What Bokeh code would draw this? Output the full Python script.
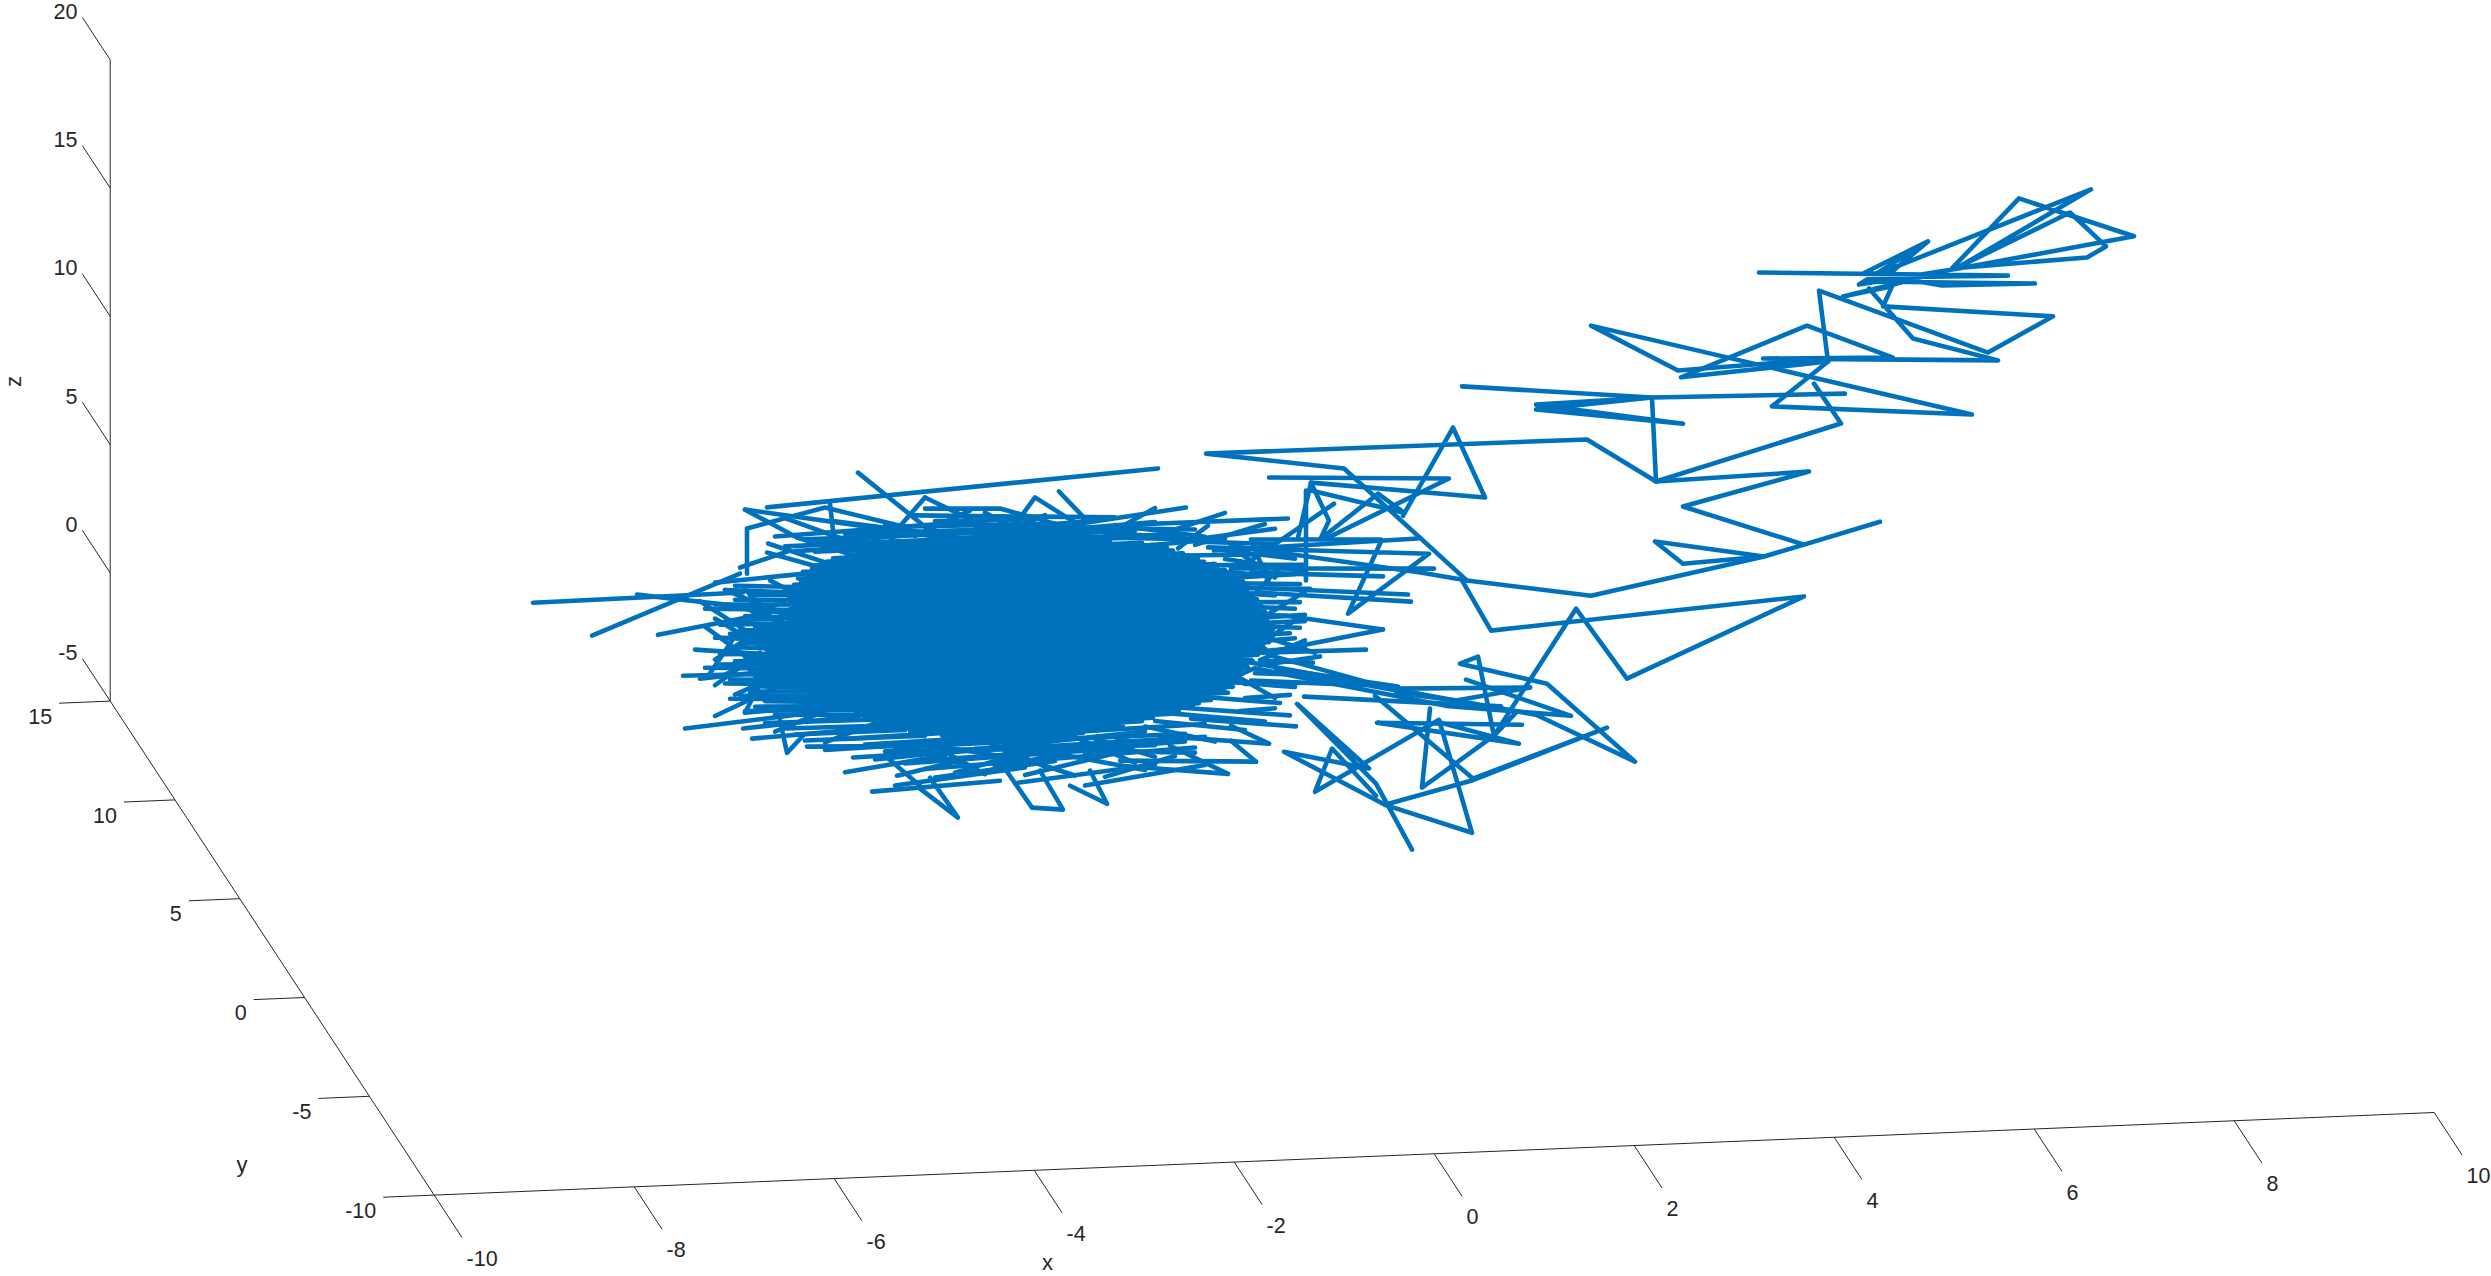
from bokeh.plotting import figure
from bokeh.models import Range1d
from bokeh.core.properties import value
from bokeh.embed import file_html
from bokeh.resources import INLINE
import math

# ---- axis ticks
x_ticks = [-10, -8, -6, -4, -2, 0, 2, 4, 6, 8, 10]
y_ticks = [-10, -5, 0, 5, 10, 15]
z_ticks = [-5, 0, 5, 10, 15, 20]

# ---- trajectory, as (x, z); depth taken at the plane y = 10
traj_y = 10
tail_top = [
    [(5.84,13.01),(8.33,12.49),(6.94,12.64),(9.16,15.72),(7.85,12.93),(8.95,14.85),(9.31,13.47),(9.12,13.07),(7.77,12.86),(8.44,15.48),(9.59,13.82),(7.85,12.85),(6.84,12.38),(7.53,13.95),(6.90,12.84),(7.67,12.21),(8.60,12.14),(6.90,12.49),(7.16,12.80),(7.53,13.95)],
    [(6.94,12.21),(7.38,10.19),(8.23,9.20),(5.88,9.65),(7.18,9.48),(6.32,10.86),(5.06,9.05),(6.53,9.43),(6.44,12.21),(8.13,9.52),(8.78,10.83),(7.08,11.49),(7.17,12.26),(6.68,11.94),(7.26,12.39)],
    [(6.53,9.43),(5.97,7.77),(7.97,7.13),(4.16,11.21),(5.03,9.32),(6.56,9.54)],
    [(6.39,8.59),(6.66,6.99),(4.81,5.03),(4.77,8.31),(6.70,8.15)],
    [(2.87,9.05),(4.77,8.31),(3.61,8.22),(5.08,7.24),(3.61,8.03),(4.77,8.31)],
]
tail_mid = [
    [(4.81,5.03),(6.34,5.17),(5.08,4.01),(6.29,2.33),(7.05,3.10),(6.29,2.33),(5.89,1.93),(4.16,0.68),(2.92,1.47),(1.69,6.04),(0.31,6.84),(4.12,6.78),(4.81,5.03)],
    [(4.80,2.69),(5.08,1.78),(5.89,1.93),(4.80,2.69)],
    [(2.86,1.56),(3.16,-0.52),(6.29,0.31),(4.52,-2.61),(4.01,0.20),(3.19,-4.62),(3.03,-1.51),(2.85,-1.76),(3.72,-2.68),(4.60,-5.86),(3.61,-3.87),(2.71,-3.10),(0.66,-1.29)],
    [(2.92,1.47),(2.47,1.85),(0.56,3.21)],
]
tail_low = [
    [(2.00,-2.87),(2.98,-6.26),(4.32,-4.49),(2.96,-6.34),(2.10,-7.14),(2.97,-8.37),(2.64,-3.91),(1.40,-6.52),(1.57,-4.86),(2.01,-6.77)],
    [(2.37,-8.93),(2.01,-6.30),(1.22,-3.06),(1.94,-5.70),(1.09,-4.91),(2.10,-7.14)],
    [(2.55,-3.46),(2.47,-6.53),(3.19,-4.62),(3.41,-3.76)],
    [(3.47,-4.24),(2.02,-3.93),(3.44,-4.97),(2.66,-4.03)],
    [(2.91,-2.39),(3.96,-3.97),(2.71,-3.38),(0.81,-1.62)],
    [(3.55,-2.80),(2.22,-2.63),(1.06,-1.82)],
    [(3.55,-2.80),(2.81,-3.19),(2.21,-2.79)],
    [(1.29,-2.79),(3.26,-3.49)],
    [(0.96,-1.14),(2.23,-2.71),(1.01,-1.65),(2.23,-2.55),(0.76,-2.08)],
]
right_fringe = [
    [(2.28,4.10),(2.78,7.46),(3.10,4.68),(1.36,5.54),(1.23,3.42)],
    [(1.36,5.54),(1.54,4.03),(1.46,3.38)],
    [(0.94,5.81),(2.74,5.48),(1.53,3.37)],
    [(1.36,5.23),(2.29,4.22),(2.03,5.00),(1.46,3.34)],
    [(1.31,5.24),(1.31,1.73)],
    [(1.59,4.68),(0.76,2.60)],
    [(0.94,1.67),(0.76,3.42),(2.06,3.21)],
    [(2.43,3.19),(0.39,3.05)],
    [(2.06,3.13),(1.73,0.37),(2.54,2.58),(0.33,3.18)],
    [(2.59,1.99),(0.56,2.32)],
    [(2.08,1.77),(0.76,2.13)],
    [(2.33,1.02),(0.96,1.48)],
    [(2.36,0.74),(0.86,1.33)],
    [(2.08,-0.30),(1.01,-0.95)],
    [(2.08,-0.30),(1.11,0.39)],
    [(1.91,-1.06),(0.86,-1.01)],
    [(1.38,-1.48),(0.86,-1.32)],
    [(1.1,2.8),(0.1,2.9)],[(1.3,2.35),(0.2,2.5)],[(0.9,2.0),(0.3,2.3)],[(1.25,1.6),(0.3,1.8)],
    [(1.0,1.2),(0.5,1.4)],[(1.25,0.9),(0.6,1.0)],[(1.1,0.4),(0.7,0.5)],[(1.3,0.15),(0.7,0.15)],
    [(1.15,-0.3),(0.8,-0.3)],[(0.65,2.9),(1.0,1.9)],[(1.05,2.3),(0.75,1.1)],[(1.3,1.3),(0.85,0.3)],
    [(1.2,0.2),(0.8,-0.8)],[(1.3,-0.6),(0.85,-1.3)],[(1.4,-1.1),(0.9,-0.4)],
    [(1.2,-2.4),(0.1,-1.9)],[(1.05,-3.0),(0.2,-2.6)],[(1.15,-3.5),(0.0,-3.0)],[(0.9,-3.7),(-0.1,-3.2)],
    [(0.7,-4.0),(-0.2,-3.5)],[(0.4,-4.4),(-0.3,-3.7)],[(0.8,-1.6),(0.2,-2.5)],[(0.5,-1.6),(1.0,-2.8)],
    [(0.3,3.4),(1.0,3.2)],[(0.4,3.1),(1.2,2.6)],[(0.5,2.7),(1.3,2.1)],[(0.5,1.95),(1.2,2.0)],
    [(0.6,1.55),(1.35,1.4)],[(0.75,0.8),(1.2,0.65)],[(0.85,0.35),(1.3,0.4)],[(0.9,0.0),(1.25,-0.1)],
    [(0.9,-0.55),(1.2,-0.5)],[(0.8,-0.95),(1.3,-0.9)],[(0.85,-1.5),(1.45,-1.25)],[(0.8,-1.8),(1.3,-1.95)],
    [(0.7,-2.2),(1.25,-2.25)],[(0.7,-2.75),(1.15,-2.7)],[(0.65,-3.25),(1.0,-3.2)],
]
top_fringe = [
    [(0.11,4.77),(-1.75,3.97)],
    [(-0.17,6.34),(-4.08,5.45)],
    [(1.13,4.18),(-0.41,4.19),(-1.15,3.80)],
    [(0.33,4.03),(0.03,3.19)],
    [(-1.62,4.27),(-1.40,5.41),(-1.08,4.57),(-0.85,4.03)],
    [(-1.16,5.60),(-0.90,4.50),(-1.00,4.05)],
    [(-6.42,2.11),(-4.32,2.17)],
    [(-5.83,0.73),(-4.35,2.91)],
    [(-5.38,2.26),(-4.15,1.52)],
    [(-5.17,0.66),(-4.08,1.31)],
    [(-3.17,6.66),(-2.45,4.28),(-2.15,3.85)],
    [(-4.30,5.40),(-3.78,4.23),(-3.05,3.21)],
    [(-4.30,5.40),(-3.15,4.59),(-1.75,3.58)],
    [(-4.28,2.90),(-4.28,4.66),(-3.50,5.35),(-2.75,4.52)],
    [(-3.45,5.50),(-3.42,4.44)],
    [(-4.07,4.04),(-3.25,2.85)],
    [(-4.08,3.69),(-3.25,2.65)],
    [(-4.35,3.15),(-3.85,3.73)],
    [(-2.50,5.58),(-2.85,4.08)],
    [(-2.50,5.58),(-2.08,4.73),(-1.75,3.97)],
    [(-2.50,5.15),(-1.75,5.03),(-0.95,4.04)],
    [(-4.0,4.3),(-1.8,4.6)],[(-3.6,4.0),(-0.8,4.4)],[(-3.3,3.75),(-0.2,4.25)],[(-3.8,3.7),(-1.2,3.9)],
    [(-2.6,4.9),(-0.6,4.5)],[(-2.0,4.4),(0.2,3.9)],[(-3.4,4.8),(-2.2,4.0)],[(-2.9,4.6),(-2.0,3.6)],
    [(-1.9,4.9),(-1.4,3.7)],[(-1.3,4.7),(-1.9,3.8)],[(-0.6,4.1),(-1.3,3.7)],[(-0.6,4.2),(0.3,3.6)],
    [(-3.4,4.1),(-3.0,3.4)],[(-2.8,4.2),(-2.9,3.5)],
    [(-3.9,3.9),(-0.4,3.95)],[(-3.7,4.15),(-0.9,4.1)],[(-3.3,4.3),(-1.2,4.2)],[(-2.9,4.5),(-1.2,4.35)],
    [(-2.4,4.65),(-1.4,4.55)],[(-3.5,3.85),(-0.2,3.75)],[(-3.6,3.65),(0.1,3.7)],[(-0.8,3.75),(0.3,3.5)],
    [(-0.6,3.3),(0.5,3.5)],[(-1.6,4.4),(0.0,3.6)],
    [(-2.05,5.0),(-2.6,4.1)],[(-0.2,4.8),(-0.7,3.8)],[(0.5,4.5),(-0.2,3.7)],[(-3.9,5.0),(-3.2,3.9)],
    [(0.9,4.0),(0.2,3.3)],[(1.0,3.8),(0.3,3.55)],
]
left_fringe = [
    [(-4.6,2.6),(-3.3,2.9)],[(-4.5,2.3),(-3.2,1.9)],[(-4.4,1.9),(-3.3,1.7)],[(-4.7,1.6),(-3.3,1.3)],
    [(-4.3,1.25),(-3.4,1.0)],[(-4.55,0.95),(-3.3,0.85)],[(-4.35,0.7),(-3.4,0.55)],[(-4.6,0.45),(-3.4,0.2)],
    [(-4.3,0.2),(-3.5,-0.1)],[(-4.55,-0.2),(-3.4,-0.35)],[(-4.4,-0.5),(-3.4,-0.6)],[(-4.7,-0.7),(-3.5,-0.95)],
    [(-4.35,-1.0),(-3.3,-1.3)],[(-4.5,-1.35),(-3.2,-1.6)],[(-4.25,-1.7),(-3.2,-1.85)],[(-4.45,-1.95),(-3.1,-2.2)],
    [(-4.2,-2.3),(-3.1,-2.45)],[(-4.5,2.3),(-3.6,0.7)],[(-4.45,0.9),(-3.7,2.1)],[(-4.45,-0.1),(-3.7,1.2)],
    [(-4.5,-1.0),(-3.75,0.2)],[(-4.4,-1.8),(-3.7,-0.7)],[(-4.2,-0.3),(-3.6,-1.5)],[(-4.4,1.7),(-3.7,0.6)],
    [(-4.2,-1.1),(-3.5,-2.0)],
    [(-4.4,2.45),(-3.4,2.2)],[(-4.25,2.05),(-3.5,1.95)],[(-4.6,1.75),(-3.4,1.55)],[(-4.2,1.45),(-3.5,1.15)],
    [(-4.45,1.1),(-3.4,1.1)],[(-4.2,0.82),(-3.5,0.75)],[(-4.45,0.58),(-3.5,0.4)],[(-4.25,0.33),(-3.5,0.05)],
    [(-4.4,0.05),(-3.5,-0.2)],[(-4.3,-0.35),(-3.5,-0.5)],[(-4.55,-0.6),(-3.5,-0.75)],[(-4.25,-0.85),(-3.5,-1.1)],
    [(-4.45,-1.2),(-3.4,-1.4)],[(-4.2,-1.5),(-3.4,-1.7)],[(-4.35,-1.85),(-3.3,-2.0)],[(-4.1,-2.1),(-3.2,-2.3)],
    [(-4.3,-2.45),(-3.0,-2.6)],[(-4.0,-2.65),(-3.0,-2.8)],[(-4.1,-2.95),(-2.9,-3.0)],[(-3.9,-3.2),(-2.8,-3.25)],
    [(-3.8,-3.45),(-2.7,-3.45)],[(-3.7,-3.7),(-2.5,-3.7)],
    [(-4.6,1.2),(-4.0,-0.3)],[(-4.3,2.3),(-4.0,1.0)],[(-4.6,-0.4),(-4.1,0.8)],[(-4.3,-2.0),(-4.0,-0.9)],
    [(-4.7,0.9),(-4.2,-0.6)],[(-4.75,1.9),(-4.3,0.7)],[(-4.6,-1.4),(-4.15,-0.2)],[(-4.05,2.6),(-3.6,1.6)],
    [(-4.6,-2.6),(-4.0,-1.6)],[(-4.0,-3.3),(-3.3,-2.3)],[(-3.5,-3.8),(-2.9,-3.0)],
]
bottom_fringe = [
    [(-4.52,0.41),(-3.85,0.30)],
    [(-4.80,0.02),(-3.85,-0.37)],
    [(-4.92,-0.98),(-4.12,-1.03),(-3.45,-0.62)],
    [(-4.75,-1.12),(-3.55,-0.81)],
    [(-4.43,0.31),(-4.68,-1.09)],
    [(-4.30,-2.52),(-4.12,-1.18),(-3.25,-1.44)],
    [(-4.30,-2.52),(-3.05,-2.25)],
    [(-4.90,-3.04),(-3.88,-2.71),(-2.95,-2.27)],
    [(-4.32,-3.13),(-3.15,-2.82)],
    [(-4.23,-3.54),(-2.75,-3.28)],
    [(-3.95,-2.88),(-3.88,-4.15),(-3.72,-3.51)],
    [(-3.68,-3.94),(-2.25,-4.14)],
    [(-3.22,-4.44),(-1.75,-4.33)],
    [(-3.03,-5.80),(-1.75,-5.58)],
    [(-2.55,-5.76),(-2.17,-6.95),(-2.45,-5.35)],
    [(-2.78,-5.22),(-2.15,-4.73)],
    [(-2.90,-4.42),(-2.55,-5.65)],
    [(-1.43,-6.68),(-1.70,-5.12)],
    [(-1.43,-6.68),(-1.12,-6.81),(-1.35,-5.25)],
    [(-0.68,-6.65),(-0.85,-5.33)],
    [(-0.68,-6.65),(-1.05,-5.89)],
    [(0.53,-5.68),(-0.55,-5.19)],
    [(0.81,-5.25),(-0.55,-4.99)],
    [(0.94,-4.57),(-0.15,-4.09)],
    [(1.21,-3.94),(0.16,-3.47)],
    [(0.53,-5.68),(-0.05,-4.49)],
    [(0.94,-4.57),(0.56,-3.81)],
    [(0.81,-5.25),(0.56,-4.39)],
    [(-3.3,-3.7),(-0.7,-3.5)],[(-3.5,-4.1),(-1.0,-3.9)],[(-3.0,-4.55),(-0.3,-3.9)],[(-2.9,-4.25),(-0.2,-4.45)],
    [(-2.7,-4.75),(-0.5,-4.5)],[(-2.5,-5.0),(0.2,-4.6)],[(-2.1,-4.9),(-2.7,-4.1)],[(-2.5,-3.9),(-1.9,-5.3)],
    [(-1.9,-4.0),(-1.3,-5.1)],[(-1.1,-3.9),(-1.8,-5.0)],[(-1.0,-4.0),(-0.4,-5.1)],[(-0.3,-3.8),(-0.9,-4.7)],
    [(-1.9,-5.2),(-0.9,-4.4)],[(-1.5,-5.4),(-0.6,-4.7)],[(-2.4,-5.35),(-1.2,-4.9)],
    [(-3.1,-3.95),(0.3,-3.7)],[(-2.8,-4.1),(0.1,-4.05)],[(-2.6,-4.4),(0.3,-4.2)],[(-2.3,-4.65),(0.1,-4.35)],
    [(-2.0,-4.3),(0.2,-4.8)],[(-2.3,-4.2),(-1.5,-4.8)],[(-0.8,-4.1),(-0.2,-4.9)],[(-1.7,-4.2),(-1.1,-4.7)],
    [(-1.3,-4.15),(-1.6,-4.85)],
    [(-2.2,-5.2),(-1.6,-4.6)],[(-1.0,-5.5),(-1.7,-4.5)],[(-0.3,-5.4),(-1.2,-4.6)],[(0.0,-4.9),(-0.7,-5.6)],
    [(-3.3,-5.0),(-2.3,-4.5)],[(-2.8,-5.6),(-1.5,-5.1)],[(-1.6,-5.7),(-0.2,-5.2)],[(-0.9,-5.9),(0.3,-5.3)],
]
# the solid knot in the middle: one sweep per height, left end, right end
core_z = [3.59,3.47,3.36,3.24,3.11,2.99,2.88,2.75,2.63,2.52,2.39,2.27,2.16,2.03,1.91,1.80,1.67,1.55,1.44,1.31,1.19,1.08,0.95,0.83,0.72,0.59,0.47,0.36,0.23,0.11,0.00,-0.13,-0.25,-0.36,-0.49,-0.61,-0.72,-0.85,-0.97,-1.08,-1.21,-1.33,-1.44,-1.57,-1.69,-1.80,-1.93,-2.05,-2.16,-2.29,-2.41,-2.52,-2.65,-2.77,-2.88,-3.01,-3.13,-3.24,-3.37,-3.49,-3.60,-3.73,-3.85,-3.97]
core_left = [-3.15,-3.28,-3.42,-3.48,-3.62,-3.63,-3.72,-3.70,-3.77,-3.74,-3.81,-3.78,-3.82,-3.79,-3.83,-3.78,-3.84,-3.80,-3.85,-3.80,-3.86,-3.81,-3.87,-3.83,-3.88,-3.84,-3.90,-3.85,-3.91,-3.87,-3.93,-3.88,-3.95,-3.90,-3.95,-3.90,-3.92,-3.83,-3.82,-3.73,-3.72,-3.63,-3.62,-3.53,-3.52,-3.43,-3.43,-3.35,-3.35,-3.27,-3.27,-3.19,-3.19,-3.11,-3.11,-3.01,-2.97,-2.85,-2.80,-2.65,-2.55,-2.33,-2.17,-1.90]
core_right = [-0.65,-0.33,-0.22,-0.08,-0.02,0.08,0.14,0.23,0.29,0.40,0.42,0.50,0.52,0.60,0.60,0.68,0.67,0.74,0.72,0.78,0.76,0.82,0.80,0.86,0.84,0.90,0.88,0.94,0.92,0.98,0.94,0.98,0.94,0.98,0.92,0.94,0.88,0.90,0.82,0.83,0.76,0.78,0.72,0.73,0.66,0.68,0.62,0.64,0.58,0.58,0.49,0.53,0.38,0.36,0.24,0.18,0.04,-0.03,-0.22,-0.33,-0.52,-0.68,-0.92,-1.15]

# ---- view: screen step per data unit
origin = (433.7, 1194.6)          # pixel of (x, y, z) = (-10, -10, -5)
ex = (100.0, -4.13)
ey = (-12.96, -19.76)
ez = (0.0, -25.65)


def project(x, y, z):
    a, b, c = x + 10, y + 10, z + 5
    return (origin[0] + a * ex[0] + b * ey[0] + c * ez[0],
            origin[1] + a * ex[1] + b * ey[1] + c * ez[1])


def path(points):
    pts = [project(x, traj_y, z) for x, z in points]
    return [q[0] for q in pts], [q[1] for q in pts]


INK = "#262626"
BLUE = "#0072BD"
FONT = value("Liberation Sans")

p = figure(width=2491, height=1276, output_backend="svg", toolbar_location=None,
           x_range=Range1d(0, 2491), y_range=Range1d(1276, 0),
           min_border=0, margin=(0, 0, 0, 0))
p.xaxis.visible = False
p.yaxis.visible = False
p.xgrid.visible = False
p.ygrid.visible = False
p.outline_line_color = None
p.background_fill_color = "white"
p.border_fill_color = "white"

# axis rules and ticks
rule_x, rule_y = [], []


def rule(a, b):
    pa, pb = project(*a), project(*b)
    rule_x.append([pa[0], pb[0]])
    rule_y.append([pa[1], pb[1]])


rule((-10, -10, -5), (10, -10, -5))
rule((-10, -10, -5), (-10, 15, -5))
rule((-10, 15, -5), (-10, 15, 20))
for t in x_ticks:
    rule((t, -10, -5), (t, -12.15, -5))
for t in y_ticks:
    rule((-10, t, -5), (-10.51, t, -5))
for t in z_ticks:
    rule((-10, 15, t), (-10, 17.15, t))
p.multi_line(rule_x, rule_y, line_color=INK, line_width=1)

# trajectory
segments = tail_top + tail_mid + tail_low + right_fringe + top_fringe + left_fringe + bottom_fringe
core = []
for zz, l, r in zip(core_z, core_left, core_right):
    core += [(l, zz), (r, zz)]
segments = segments + [core]
xs, ys = zip(*[path(s) for s in segments])
p.multi_line(list(xs), list(ys), line_color=BLUE, line_width=4.6,
             line_cap="round", line_join="round")


def labels(ticks, pos, align):
    tx, ty, tt = [], [], []
    for t in ticks:
        q = pos(t)
        tx.append(q[0]); ty.append(q[1]); tt.append(str(t))
    p.text(tx, ty, text=tt, text_font=FONT, text_font_size="21.5px", text_color=INK,
           text_align=align, text_baseline="middle")


def xlab(t):
    q = project(t, -12.15, -5)
    return q[0] + 4.5, q[1] + 20.5


def ylab(t):
    q = project(-10.51, t, -5)
    return q[0] - 7, q[1] + 13


def zlab(t):
    q = project(-10, 17.15, t)
    return q[0] - 5, q[1] - 6


labels(x_ticks, xlab, "left")
labels(y_ticks, ylab, "right")
labels(z_ticks, zlab, "right")

# axis titles
p.text([1047], [1262], text=["x"], text_font=FONT, text_font_size="22px", text_color=INK,
       text_align="center", text_baseline="middle")
p.text([241.5], [1164], text=["y"], text_font=FONT, text_font_size="22px", text_color=INK,
       text_align="center", text_baseline="middle")
p.text([13], [381], text=["z"], angle=math.pi / 2, text_font=FONT, text_font_size="22px",
       text_color=INK, text_align="center", text_baseline="middle")

open("out.html", "w").write(file_html(p, INLINE))
